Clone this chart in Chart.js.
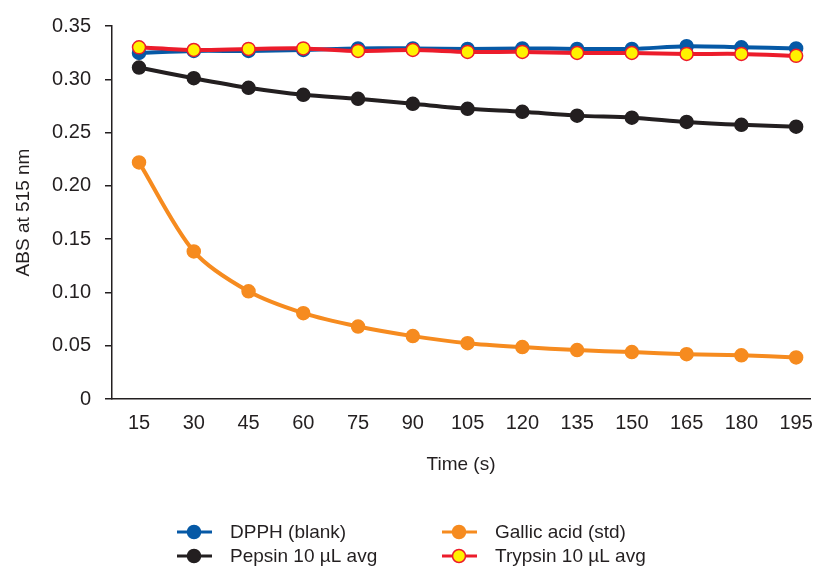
<!DOCTYPE html>
<html>
<head>
<meta charset="utf-8">
<script src="https://cdn.jsdelivr.net/npm/chart.js@4/dist/chart.umd.min.js"></script>
<style>
    html, body { margin: 0; padding: 0; background: #fff; }
    #wrap { width: 818px; height: 568px; }
</style>
</head>
<body>
<div id="wrap"><canvas id="absChart" width="818" height="568"></canvas></div>
<script>
const times = [15, 30, 45, 60, 75, 90, 105, 120, 135, 150, 165, 180, 195];
const yTicks = [0, 0.05, 0.10, 0.15, 0.20, 0.25, 0.30, 0.35];

const dpph = [0.3247, 0.3266, 0.3266, 0.3275, 0.3290, 0.3290, 0.3285, 0.3290, 0.3285, 0.3285, 0.3310, 0.3300, 0.3290];
const pepsin = [0.3110, 0.3010, 0.2920, 0.2854, 0.2817, 0.2770, 0.2723, 0.2695, 0.2659, 0.2640, 0.2600, 0.2573, 0.2555];
const gallic = [0.2220, 0.1385, 0.1010, 0.0805, 0.0680, 0.0590, 0.0524, 0.0487, 0.0459, 0.0440, 0.0420, 0.0410, 0.0390];
const trypsin = [0.3300, 0.3275, 0.3285, 0.3290, 0.3266, 0.3275, 0.3257, 0.3257, 0.3247, 0.3247, 0.3238, 0.3238, 0.3220];

const seriesNames = ['DPPH (blank)', 'Pepsin 10 \u00b5L avg', 'Gallic acid (std)', 'Trypsin 10 \u00b5L avg'];

const TEXT = '#231f20';
const FONT = '"Liberation Sans", Arial, Helvetica, sans-serif';
const FSIZE = 19;
const TICK_SIZE = 20;

function series(label, values, line, fill, border, order) {
    return {
        label,
        data: values.map((v, i) => ({ x: times[i], y: v })),
        borderColor: line,
        backgroundColor: fill,
        pointBorderColor: border,
        pointBackgroundColor: fill,
        pointBorderWidth: 1.5,
        pointRadius: 6.5,
        borderWidth: 4,
        tension: 0.3,
        order
    };
}

const datasets = [
    series(seriesNames[0], dpph, '#0659a6', '#0659a6', '#0659a6', 3),
    series(seriesNames[1], pepsin, TEXT, TEXT, TEXT, 2),
    series(seriesNames[2], gallic, '#f68b1f', '#f68b1f', '#f68b1f', 1),
    series(seriesNames[3], trypsin, '#ec1c2b', '#fff200', '#ec1c2b', 0)
];

// two-column legend under the plot, like the original figure
const legendSlots = [
    { x: 177, y: 532 }, { x: 177, y: 556 },
    { x: 442, y: 532 }, { x: 442, y: 556 }
];
const bottomLegend = {
    id: 'bottomLegend',
    afterDraw(chart) {
        const ctx = chart.ctx;
        ctx.save();
        chart.data.datasets.forEach((ds, i) => {
            const s = legendSlots[i];
            ctx.strokeStyle = ds.borderColor;
            ctx.lineWidth = 3;
            ctx.beginPath();
            ctx.moveTo(s.x, s.y);
            ctx.lineTo(s.x + 35, s.y);
            ctx.stroke();
            ctx.beginPath();
            ctx.arc(s.x + 17, s.y, 6.5, 0, Math.PI * 2);
            ctx.fillStyle = ds.pointBackgroundColor;
            ctx.fill();
            ctx.lineWidth = 1.5;
            ctx.strokeStyle = ds.pointBorderColor;
            ctx.stroke();
            ctx.fillStyle = TEXT;
            ctx.font = FSIZE + 'px ' + FONT;
            ctx.textBaseline = 'middle';
            ctx.fillText(ds.label, s.x + 53, s.y + 1);
        });
        ctx.restore();
    }
};

new Chart(document.getElementById('absChart'), {
    type: 'line',
    data: { datasets },
    plugins: [bottomLegend],
    options: {
        responsive: false,
        animation: false,
        layout: { padding: { top: 25, right: 0, bottom: 90, left: 0 } },
        plugins: {
            legend: { display: false },
            tooltip: { enabled: false }
        },
        scales: {
            x: {
                type: 'linear',
                min: 7.6,
                max: 198.8,
                afterBuildTicks: axis => { axis.ticks = times.map(v => ({ value: v })); },
                afterFit: scale => {
                    scale.height = 79;
                    scale.paddingLeft = 0;
                    scale.paddingRight = 0;
                },
                grid: { display: false },
                border: { display: true, color: TEXT, width: 1.5 },
                ticks: {
                    color: TEXT,
                    font: { family: FONT, size: TICK_SIZE },
                    padding: 4,
                    maxRotation: 0,
                    autoSkip: false
                },
                title: {
                    display: true,
                    text: 'Time (s)',
                    color: TEXT,
                    font: { family: FONT, size: FSIZE },
                    padding: { top: 10, bottom: 2 }
                }
            },
            y: {
                min: 0,
                max: 0.35,
                afterBuildTicks: axis => { axis.ticks = yTicks.map(v => ({ value: v })); },
                afterFit: scale => { scale.width = 112; },
                grid: { drawOnChartArea: false, drawTicks: true, tickLength: 7, color: TEXT, lineWidth: 1.5 },
                border: { display: true, color: TEXT, width: 1.5 },
                ticks: {
                    color: TEXT,
                    font: { family: FONT, size: TICK_SIZE },
                    padding: 14,
                    callback: v => (v === 0 ? '0' : v.toFixed(2))
                },
                title: {
                    display: true,
                    text: 'ABS at 515 nm',
                    color: TEXT,
                    font: { family: FONT, size: FSIZE },
                    padding: { top: 12, bottom: 0 }
                }
            }
        }
    }
});
</script>
</body>
</html>
